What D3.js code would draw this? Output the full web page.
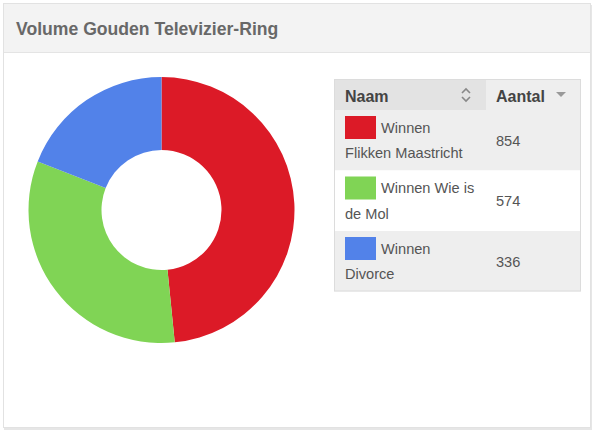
<!DOCTYPE html>
<html>
<head>
<meta charset="utf-8">
<script src="https://cdn.jsdelivr.net/npm/d3@7"></script>
<style>
  body { margin: 0; background: #fff; font-family: Arial, "Liberation Sans", sans-serif; }
</style>
</head>
<body>
<div id="chart"></div>
<script>
// data
const title = 'Volume Gouden Televizier-Ring';
const categories = ['Winnen Flikken Maastricht', 'Winnen Wie is de Mol', 'Winnen Divorce'];
const firstLines = ['Winnen', 'Winnen Wie is', 'Winnen'];
const secondLines = ['Flikken Maastricht', 'de Mol', 'Divorce'];
const values = [854, 574, 336];
const colors = ['#dc1a27', '#80d455', '#5282e9'];
const headers = ['Naam', 'Aantal'];

const width = 595;
const height = 432;

const svg = d3.select('#chart')
  .append('svg')
  .attr('width', width)
  .attr('height', height);

// panel + shadow
svg.append('rect')
  .attr('x', 4).attr('y', 5)
  .attr('width', 588).attr('height', 425)
  .attr('fill', '#e6e6e6');
svg.append('rect')
  .attr('x', 3.5).attr('y', 3.5)
  .attr('width', 587).attr('height', 424)
  .attr('fill', '#fff')
  .attr('stroke', '#e2e2e2');
svg.append('rect')
  .attr('x', 4).attr('y', 4)
  .attr('width', 586).attr('height', 48)
  .attr('fill', '#f3f3f3');
svg.append('line')
  .attr('x1', 4).attr('x2', 590)
  .attr('y1', 52.5).attr('y2', 52.5)
  .attr('stroke', '#e4e4e4');
svg.append('text')
  .attr('x', 16).attr('y', 35)
  .attr('font-size', '17.6px')
  .attr('font-weight', 'bold')
  .attr('fill', '#686868')
  .text(title);

// donut
const pie = d3.pie().sort(null)(values);
const arc = d3.arc().innerRadius(60).outerRadius(133);
const g = svg.append('g').attr('transform', 'translate(161.5,210)');
g.selectAll('path')
  .data(pie)
  .enter()
  .append('path')
  .attr('d', arc)
  .attr('fill', (d, i) => colors[i]);

// table
const tx = 334, ty = 79, tw = 247;
const col2 = 486;
const headH = 31, rowH = 60.5;
const t = svg.append('g');

t.append('rect')
  .attr('x', tx).attr('y', ty)
  .attr('width', col2 - tx).attr('height', headH)
  .attr('fill', '#e3e3e3');
t.append('rect')
  .attr('x', col2).attr('y', ty)
  .attr('width', tx + tw - col2).attr('height', headH)
  .attr('fill', '#eeeeee');

const rows = t.selectAll('g.row')
  .data(values)
  .enter()
  .append('g')
  .attr('class', 'row')
  .attr('transform', (d, i) => `translate(${tx},${ty + headH + i * rowH})`);

rows.append('rect')
  .attr('width', tw).attr('height', rowH)
  .attr('fill', (d, i) => i % 2 === 0 ? '#eeeeee' : '#ffffff');
rows.append('rect')
  .attr('x', 11).attr('y', 6)
  .attr('width', 31).attr('height', 23)
  .attr('fill', (d, i) => colors[i]);
rows.append('text')
  .attr('x', 47).attr('y', 22.5)
  .attr('font-size', '14.6px').attr('fill', '#555')
  .text((d, i) => firstLines[i]);
rows.append('text')
  .attr('x', 11).attr('y', 48)
  .attr('font-size', '14.6px').attr('fill', '#555')
  .text((d, i) => secondLines[i]);
rows.append('text')
  .attr('x', col2 - tx + 10).attr('y', 35.5)
  .attr('font-size', '14.6px').attr('fill', '#555')
  .text(d => d);

t.append('rect')
  .attr('x', tx + 0.5).attr('y', ty + 0.5)
  .attr('width', tw - 1).attr('height', headH + rowH * values.length - 1)
  .attr('fill', 'none')
  .attr('stroke', '#dcdcdc');

// header text
t.selectAll('text.head')
  .data(headers)
  .enter()
  .append('text')
  .attr('class', 'head')
  .attr('x', (d, i) => i === 0 ? tx + 11 : col2 + 10)
  .attr('y', ty + 22.5)
  .attr('font-size', '16px')
  .attr('font-weight', 'bold')
  .attr('fill', '#444')
  .text(d => d);

// sort icons
t.append('path')
  .attr('d', 'M462,93 l4,-4 l4,4 M462,97 l4,4 l4,-4')
  .attr('fill', 'none')
  .attr('stroke', '#888')
  .attr('stroke-width', 1.6);
t.append('path')
  .attr('d', 'M556,92 l10,0 l-5,5 z')
  .attr('fill', '#999');
</script>
</body>
</html>
